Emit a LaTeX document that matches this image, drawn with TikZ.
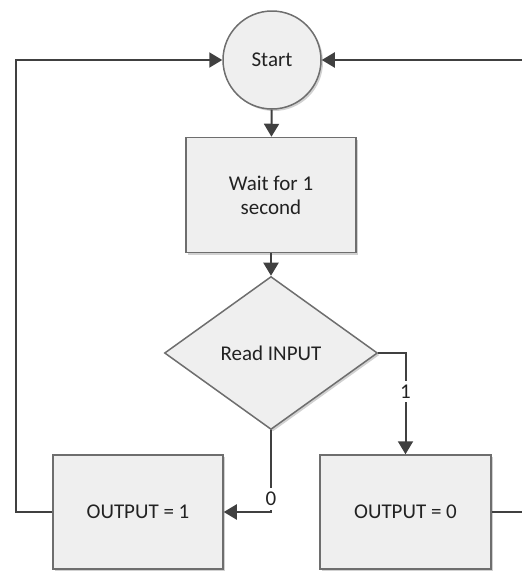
\documentclass[tikz,border=0pt]{standalone}
\usepackage{fontspec}
\setmainfont{Carlito}
\usetikzlibrary{arrows.meta,shapes.geometric,shadows}
\definecolor{boxfill}{HTML}{EFEFEF}
\definecolor{boxline}{HTML}{6E6E6E}
\definecolor{conn}{HTML}{404040}
\definecolor{txt}{HTML}{222222}
\begin{document}
\begin{tikzpicture}[x=1pt,y=-1pt,
  every node/.style={font=\fontsize{21}{26}\selectfont, text=txt},
  blk/.style={draw=boxline, line width=1.5pt, fill=boxfill,
    drop shadow={shadow xshift=2pt, shadow yshift=-2pt, fill=black!18, opacity=1}},
  procbox/.style={blk, rectangle, minimum width=170pt, minimum height=115pt, align=center, inner sep=0pt},
  arr/.style={draw=conn, line width=2pt, -{Triangle[length=13pt,width=15pt]}},
  lbl/.style={fill=white, inner xsep=2pt, inner ysep=4pt, text=txt}
]
\useasboundingbox (0,0) rectangle (522,571);
\node[blk, circle, minimum size=98pt, inner sep=0pt] (start) at (272,60) {Start};
\node[procbox] (wait) at (271,195) {Wait for 1\\[-2pt]second};
\node[blk, diamond, aspect=1.39, minimum width=213pt, minimum height=153pt, inner sep=0pt] (read) at (271,353) {Read INPUT};
\node[procbox, minimum width=170pt, minimum height=114pt] (o1) at (138,512) {OUTPUT = 1};
\node[procbox, minimum width=171pt, minimum height=114pt] (o0) at (405.5,512) {OUTPUT = 0};
\coordinate (L) at (16,60);
\coordinate (R) at (532,60);
\draw[arr] (start) -- (wait);
\draw[arr] (wait) -- (read);
\draw[arr] (read.east) -| node[lbl, pos=0.69] {1} (o0.north);
\draw[arr] (read.south) |- node[lbl, pos=0.42] {0} (o1.east);
\draw[arr] (o1.west) -| (L) -- (start.west);
\draw[arr] (o0.east) -| (R) -- (start.east);
\end{tikzpicture}
\end{document}
